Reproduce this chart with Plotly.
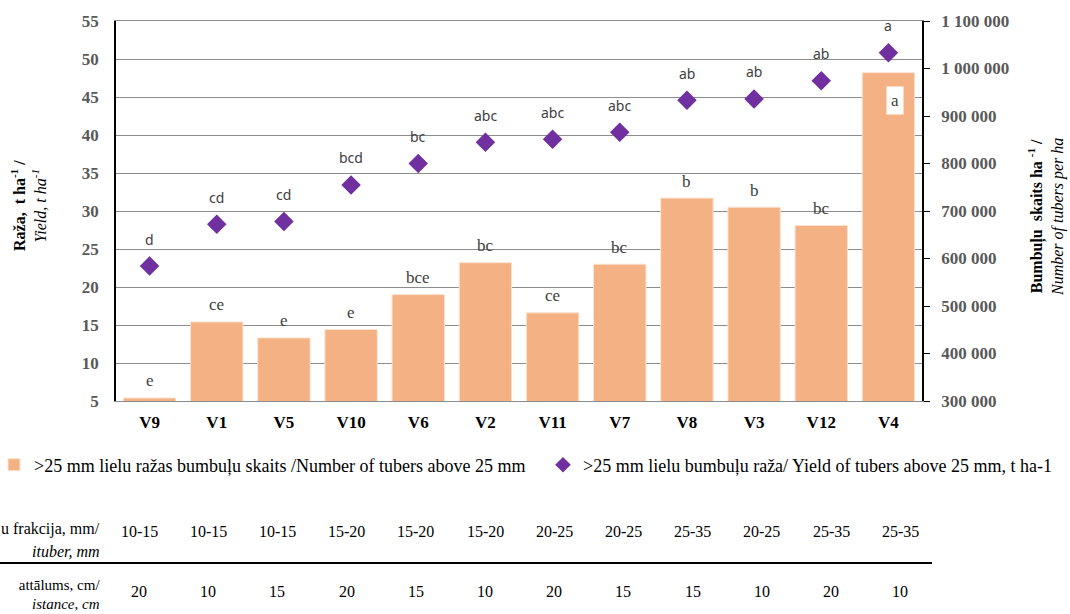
import plotly.graph_objects as go

categories = ["V9", "V1", "V5", "V10", "V6", "V2", "V11", "V7", "V8", "V3", "V12", "V4"]
yield_t_ha = [5.4, 15.4, 13.3, 14.4, 19.0, 23.2, 16.6, 23.0, 31.7, 30.5, 28.1, 48.2]
tubers_per_ha = [584000, 672000, 678000, 755000, 800000, 845000, 851000, 866000, 933000, 936000, 974000, 1033000]
bar_letters = ["e", "ce", "e", "e", "bce", "bc", "ce", "bc", "b", "b", "bc", "a"]
dia_letters = ["d", "cd", "cd", "bcd", "bc", "abc", "abc", "abc", "ab", "ab", "ab", "a"]
fraction_mm = ["10-15", "10-15", "10-15", "15-20", "15-20", "15-20", "20-25", "20-25", "25-35", "20-25", "25-35", "25-35"]
distance_cm = ["20", "10", "15", "20", "15", "10", "20", "15", "15", "10", "20", "10"]

bar_name = ">25 mm lielu ražas bumbuļu skaits /Number of tubers above 25 mm"
dia_name = ">25 mm lielu bumbuļu raža/ Yield of tubers above 25 mm, t ha-1"

W, H = 1070, 614
L, R, T, B = 116, 148, 21, 213
PW, PH = W - L - R, H - T - B


def xp(px):
    return (px - L) / PW


def yp(py):
    return (H - B - py) / PH


SERIF = "Liberation Serif"
BAR_C = "#F4B183"
DIA_C = "#7030A0"
GRID = "#8C8C8C"

fig = go.Figure()
fig.add_trace(go.Bar(
    x=categories, y=yield_t_ha, name=bar_name,
    marker=dict(color=BAR_C, line=dict(color="#FBE3D1", width=1)),
    legend="legend", yaxis="y", showlegend=True,
))
fig.add_trace(go.Scatter(
    x=categories, y=tubers_per_ha, name=dia_name, mode="markers",
    marker=dict(symbol="diamond", size=15, color=DIA_C),
    legend="legend2", yaxis="y2", showlegend=True,
))

ann = []
# letters above bars
for i, (c, v, t) in enumerate(zip(categories, yield_t_ha, bar_letters)):
    if i == len(categories) - 1:
        ann.append(dict(x=c, y=v, xref="x", yref="y", text=t, showarrow=False,
                        xshift=7, yshift=-28, bgcolor="white", borderpad=4,
                        font=dict(family=SERIF, size=17, color="#404040")))
    else:
        ann.append(dict(x=c, y=v, xref="x", yref="y", text=t, showarrow=False,
                        yshift=17, font=dict(family=SERIF, size=17, color="#404040")))
# letters above diamonds
for c, v, t in zip(categories, tubers_per_ha, dia_letters):
    ann.append(dict(x=c, y=v, xref="x", yref="y2", text=t, showarrow=False,
                    yshift=27, font=dict(family="Noto Sans", size=14, color="#404040")))

# axis titles
ann.append(dict(xref="paper", yref="paper", x=xp(29), y=yp(206), textangle=-90,
                showarrow=False, xanchor="center", yanchor="middle",
                text="<b>Raža,  t ha<sup>-1</sup> /</b><br><i>Yield, t ha<sup>-1</sup></i>",
                font=dict(family=SERIF, size=16, color="black")))
ann.append(dict(xref="paper", yref="paper", x=xp(1046), y=yp(217), textangle=-90,
                showarrow=False, xanchor="center", yanchor="middle",
                text="<b>Bumbuļu  skaits ha <sup>-1</sup> /</b><br><i>Number of tubers per ha</i>",
                font=dict(family=SERIF, size=16, color="black")))

# table below chart
col0, step = 139, 69.2
tfont = dict(family=SERIF, size=16, color="black")
for i, (f, d) in enumerate(zip(fraction_mm, distance_cm)):
    cx = col0 + i * step
    ann.append(dict(xref="paper", yref="paper", x=xp(cx), y=yp(531), text=f,
                    showarrow=False, xanchor="center", yanchor="middle", font=tfont))
    ann.append(dict(xref="paper", yref="paper", x=xp(cx), y=yp(591), text=d,
                    showarrow=False, xanchor="center", yanchor="middle", font=tfont))
row_labels = [("u frakcija, mm/", 529, False, 16), ("ituber, mm", 551, True, 16),
              (" attālums, cm/", 585, False, 15), ("istance, cm", 604, True, 15)]
for txt, py, it, fs in row_labels:
    ann.append(dict(xref="paper", yref="paper", x=xp(102), y=yp(py),
                    text=f"<i>{txt}</i>" if it else txt, showarrow=False,
                    xanchor="right", yanchor="middle",
                    font=dict(family=SERIF, size=fs, color="black")))

shapes = [dict(type="line", xref="paper", yref="paper", x0=xp(0), x1=xp(932),
               y0=yp(563), y1=yp(563), line=dict(color="black", width=2))]

tickfont = dict(family=SERIF, size=17, color="#595959", weight="bold")
legfont = dict(family=SERIF, size=18, color="black")
fig.update_layout(
    width=W, height=H,
    margin=dict(l=L, r=R, t=T, b=B, autoexpand=False),
    paper_bgcolor="white", plot_bgcolor="white",
    separators=". ",
    bargap=0.22,
    showlegend=True,
    xaxis=dict(type="category", range=[-0.5, len(categories) - 0.5],
               showline=True, linecolor=GRID, linewidth=1, mirror=True,
               ticks="", ticklabelstandoff=6,
               tickfont=dict(family=SERIF, size=17, color="black", weight="bold")),
    yaxis=dict(range=[5, 55], dtick=5, tick0=5, showgrid=True, gridcolor=GRID, gridwidth=1,
               showline=True, linecolor="black", linewidth=1.5, ticks="",
               ticklabelstandoff=12, zeroline=False, tickfont=tickfont),
    yaxis2=dict(range=[300000, 1100000], dtick=100000, tick0=300000, overlaying="y",
                side="right", showgrid=False, showline=True, linecolor="black",
                linewidth=1.5, ticks="outside", ticklen=6, tickcolor="black",
                tickformat=",d", ticklabelstandoff=8, zeroline=False, tickfont=tickfont),
    legend=dict(x=xp(-6), y=yp(465), xanchor="left", yanchor="middle",
                orientation="h", bgcolor="rgba(0,0,0,0)", font=legfont),
    legend2=dict(x=xp(543), y=yp(465), xanchor="left", yanchor="middle",
                 orientation="h", bgcolor="rgba(0,0,0,0)", itemsizing="constant",
                 font=legfont),
    annotations=ann,
    shapes=shapes,
)

fig.write_html("out.html")
